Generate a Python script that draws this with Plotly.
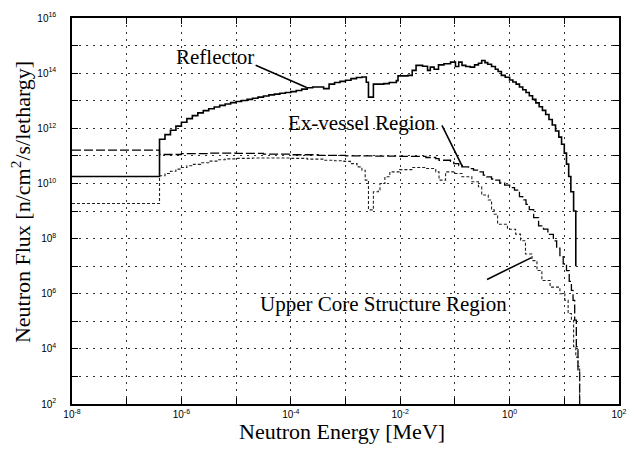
import plotly.graph_objects as go

# ---- data (log10 of energy [MeV] and log10 of flux) ----
refl_logE = [-8.0, -6.40, -6.30, -6.20, -6.10, -6.00, -5.90, -5.80, -5.70, -5.60, -5.50, -5.40,
             -5.30, -5.20, -5.10, -5.00, -4.90, -4.80, -4.70, -4.60, -4.50, -4.40, -4.30, -4.20,
             -4.10, -4.00, -3.90, -3.80, -3.70, -3.60, -3.50, -3.40, -3.30, -3.20, -3.10, -3.00,
             -2.90, -2.80, -2.70, -2.62, -2.58, -2.49, -2.40, -2.30, -2.20, -2.07, -2.04, -1.86,
             -1.78, -1.71, -1.59, -1.50, -1.45, -1.38, -1.30, -1.20, -1.08, -0.99, -0.93, -0.87,
             -0.80, -0.72, -0.64, -0.57, -0.51, -0.45, -0.40, -0.33, -0.26, -0.21, -0.15, -0.08,
             0.00, 0.06, 0.12, 0.18, 0.24, 0.30, 0.36, 0.42, 0.48, 0.54, 0.60, 0.66, 0.72, 0.78,
             0.84, 0.90, 0.95, 1.00, 1.04, 1.08, 1.12, 1.17, 1.21]
refl_logF = [10.25, 11.60, 11.77, 11.93, 12.08, 12.22, 12.35, 12.46, 12.56, 12.64, 12.71, 12.77,
             12.83, 12.88, 12.93, 12.97, 13.01, 13.05, 13.09, 13.13, 13.17, 13.21, 13.24, 13.27,
             13.30, 13.33, 13.37, 13.42, 13.47, 13.50, 13.50, 13.44, 13.60, 13.66, 13.70, 13.74,
             13.80, 13.84, 13.86, 13.67, 13.13, 13.60, 13.60, 13.62, 13.66, 13.73, 13.90, 13.92,
             14.10, 14.28, 14.25, 14.10, 14.22, 14.14, 14.30, 14.34, 14.40, 14.24, 14.40, 14.28,
             14.24, 14.22, 14.30, 14.36, 14.46, 14.38, 14.32, 14.24, 14.14, 14.06, 13.92, 13.85,
             13.75, 13.68, 13.60, 13.50, 13.40, 13.30, 13.18, 13.05, 12.92, 12.78, 12.65, 12.50,
             12.32, 12.12, 11.90, 11.68, 11.42, 11.10, 10.70, 10.25, 9.70, 9.00, 7.00]

exv_logE = [-8.0, -6.40, -6.0, -5.5, -5.0, -4.5, -4.0, -3.5, -3.0, -2.5, -2.0, -1.53, -1.35,
            -1.29, -1.08, -1.02, -0.93, -0.87, -0.75, -0.66, -0.57, -0.48, -0.42, -0.33, -0.27,
            -0.18, -0.09, 0.00, 0.09, 0.18, 0.24, 0.30, 0.36, 0.44, 0.53, 0.62, 0.70, 0.80, 0.86,
            0.92, 0.98, 1.04, 1.09, 1.13, 1.16, 1.19, 1.22, 1.25, 1.28]
exv_logF = [11.21, 11.05, 11.08, 11.10, 11.09, 11.06, 11.04, 11.02, 11.00, 10.99, 10.98, 10.94,
            10.90, 10.84, 10.80, 10.72, 10.65, 10.60, 10.54, 10.48, 10.42, 10.30, 10.24, 10.16,
            10.12, 10.02, 9.94, 9.85, 9.76, 9.52, 9.40, 9.24, 9.05, 8.76, 8.46, 8.34, 8.15, 7.92,
            7.65, 7.38, 7.08, 6.84, 6.45, 6.12, 5.76, 5.04, 4.08, 3.24, 2.00]

ucs_logE = [-8.0, -6.40, -6.30, -6.20, -6.10, -6.00, -5.90, -5.80, -5.65, -5.50, -5.35, -5.20,
            -5.00, -4.70, -4.30, -4.00, -3.70, -3.40, -3.20, -3.03, -2.91, -2.79, -2.70, -2.64,
            -2.58, -2.49, -2.40, -2.37, -2.28, -2.19, -2.01, -1.77, -1.53, -1.35, -1.29, -1.17,
            -0.99, -0.87, -0.69, -0.57, -0.51, -0.39, -0.33, -0.28, -0.22, -0.04, 0.11, 0.20,
            0.29, 0.41, 0.50, 0.59, 0.74, 0.92, 1.01, 1.07, 1.13, 1.17, 1.21, 1.25, 1.28]
ucs_logF = [9.27, 10.28, 10.36, 10.44, 10.52, 10.58, 10.64, 10.69, 10.75, 10.81, 10.86, 10.89,
            10.91, 10.92, 10.92, 10.91, 10.88, 10.84, 10.82, 10.80, 10.72, 10.60, 10.48, 10.12,
            9.04, 9.70, 9.76, 10.00, 10.24, 10.42, 10.50, 10.58, 10.54, 10.42, 10.12, 10.42,
            10.36, 10.24, 10.06, 9.88, 9.58, 9.40, 9.04, 8.88, 8.52, 8.34, 8.16, 7.92,
            7.44, 7.20, 6.84, 6.48, 6.24, 6.00, 5.76, 5.28, 5.04, 4.08, 3.70, 3.36, 2.00]

x_tick_exponents = list(range(-8, 3))
y_tick_exponents = list(range(2, 17))

series = [
    ("Reflector", refl_logE, refl_logF, dict(color="black", width=1.6, dash="solid")),
    ("Ex-vessel Region", exv_logE, exv_logF, dict(color="black", width=1.3, dash="9px,3px")),
    ("Upper Core Structure Region", ucs_logE, ucs_logF, dict(color="#222", width=1.1, dash="3px,2px")),
]

fig = go.Figure()
for name, le, lf, ln in series:
    fig.add_trace(go.Scatter(
        x=[10 ** v for v in le], y=[10 ** v for v in lf],
        mode="lines", line_shape="hv", line=ln, name=name, showlegend=False))

def pow_labels(exps):
    return [f"10<sup>{e}</sup>" if e % 2 == 0 else "" for e in exps]

tickfont = dict(family="Liberation Sans", size=10, color="black")
common = dict(type="log", showline=True, linecolor="black", linewidth=1.5, mirror="ticks",
              ticks="inside", ticklen=6, tickcolor="black", tickwidth=1,
              showgrid=True, gridcolor="#333", gridwidth=1, griddash="2px,5px",
              zeroline=False, tickfont=tickfont)

fig.update_xaxes(range=[-8, 2], tickvals=[10 ** e for e in x_tick_exponents],
                 ticktext=pow_labels(x_tick_exponents), **common)
fig.update_yaxes(range=[2, 16], tickvals=[10 ** e for e in y_tick_exponents],
                 ticktext=pow_labels(y_tick_exponents), ticklabelstandoff=12, **common)

title_font = dict(family="Liberation Serif", size=22, color="black")
fig.add_annotation(text="Neutron Energy [MeV]", xref="paper", yref="paper",
                   x=0.494, y=-0.072, showarrow=False, font=title_font,
                   xanchor="center", yanchor="middle")
fig.add_annotation(text="Neutron Flux [n/cm<sup>2</sup>/s/lethargy]", xref="paper", yref="paper",
                   x=-0.094, y=0.522, showarrow=False, font=title_font, textangle=-90,
                   xanchor="center", yanchor="middle")

lab_font = dict(family="Liberation Serif", size=21, color="black")
# (text, text x(log), text y(log), line end on curve, line start)
labels = [
    ("Reflector", -5.39, 14.60, (-3.71, 13.48), (-4.67, 14.31)),
    ("Ex-vessel Region", -2.70, 12.19, (-0.86, 10.60), (-1.25, 12.16)),
    ("Upper Core Structure Region", -2.31, 5.64, (0.40, 7.31), (-0.44, 6.49)),
]
for text, tx, ty, (x1, y1), (x0, y0) in labels:
    fig.add_annotation(x=tx, y=ty, text=text, showarrow=False, font=lab_font,
                       xref="x", yref="y")
    fig.add_annotation(x=x1, y=y1, ax=x0, ay=y0, xref="x", yref="y", axref="x", ayref="y",
                       text="", showarrow=True, arrowhead=0, arrowwidth=1.6, arrowcolor="black",
                       standoff=0, startstandoff=0)

fig.update_layout(width=638, height=459, margin=dict(l=72, r=11, t=15, b=55),
                  plot_bgcolor="white", paper_bgcolor="white", showlegend=False)

fig.write_html("out.html")
